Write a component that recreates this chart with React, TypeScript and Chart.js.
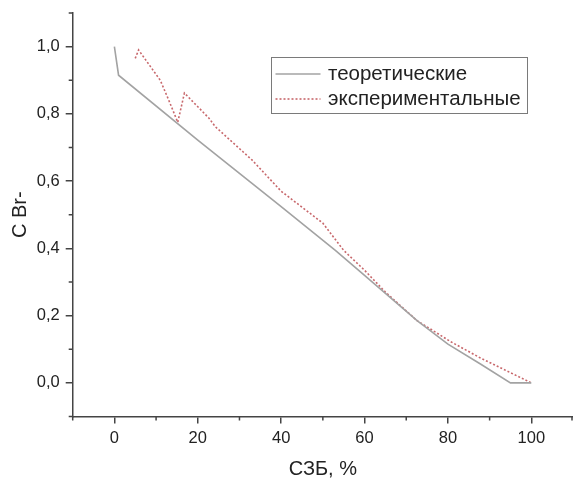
import React, { useEffect, useRef } from "react";
import { Chart, registerables } from "chart.js";

Chart.register(...registerables);

const theoX = [0, 1, 20, 40, 53, 60, 72.6, 80, 87.8, 95, 100];
const theoY = [1.0, 0.915, 0.722, 0.524, 0.394, 0.32, 0.185, 0.115, 0.056, 0.0, 0.0];

const expX = [5, 5.8, 11, 13, 15.2, 16.8, 22.7, 24.2, 33, 40, 50, 55, 60, 65, 72.6, 80.6, 87.8, 100];
const expY = [0.965, 0.99, 0.9, 0.842, 0.775, 0.862, 0.787, 0.762, 0.663, 0.57, 0.475, 0.394, 0.335, 0.27, 0.185, 0.123, 0.074, 0.0];

const xMajorTicks = [0, 20, 40, 60, 80, 100];
const xMinorTicks = [-10, 10, 30, 50, 70, 90, 110];
const yMajorTicks = [0, 0.2, 0.4, 0.6, 0.8, 1.0];
const yMinorTicks = [-0.1, 0.1, 0.3, 0.5, 0.7, 0.9, 1.1];

const seriesNames = ["теоретические", "экспериментальные"];
const xTitle = "СЗБ, %";
const yTitle = "C Br-";

const FONT = "'Liberation Sans', Arial, sans-serif";
const AXIS_COLOR = "#444444";
const TEXT_COLOR = "#222222";

export default function App() {
  const ref = useRef<HTMLCanvasElement | null>(null);

  useEffect(() => {
    if (!ref.current) return;

    const minorTicksPlugin = {
      id: "minorTicks",
      afterDraw(chart: any) {
        const ctx = chart.ctx;
        const xs = chart.scales.x;
        const ys = chart.scales.y;
        const area = chart.chartArea;
        ctx.save();
        ctx.strokeStyle = AXIS_COLOR;
        ctx.lineWidth = 1.5;
        ctx.beginPath();
        xMinorTicks.forEach((v) => {
          const px = Math.min(Math.max(xs.getPixelForValue(v), area.left), area.right - 1);
          ctx.moveTo(px, area.bottom);
          ctx.lineTo(px, area.bottom + 4);
        });
        yMinorTicks.forEach((v) => {
          const py = ys.getPixelForValue(v);
          ctx.moveTo(area.left, py);
          ctx.lineTo(area.left - 4, py);
        });
        ctx.stroke();
        ctx.restore();
      },
    };

    const legendPlugin = {
      id: "boxLegend",
      afterDraw(chart: any) {
        const ctx = chart.ctx;
        const left = 271.5;
        const top = 57.5;
        const w = 256;
        const h = 56;
        ctx.save();
        ctx.strokeStyle = "#7a7a7a";
        ctx.lineWidth = 1;
        ctx.strokeRect(left, top, w, h);
        chart.data.datasets.forEach((ds: any, i: number) => {
          const cy = top + 16.5 + i * 25;
          ctx.strokeStyle = ds.borderColor;
          ctx.lineWidth = ds.borderWidth;
          ctx.setLineDash(ds.borderDash || []);
          ctx.beginPath();
          ctx.moveTo(left + 4, cy);
          ctx.lineTo(left + 49, cy);
          ctx.stroke();
          ctx.setLineDash([]);
          ctx.fillStyle = TEXT_COLOR;
          ctx.font = `20.5px ${FONT}`;
          ctx.textBaseline = "middle";
          ctx.textAlign = "left";
          ctx.fillText(ds.label, left + 56.5, cy);
        });
        ctx.restore();
      },
    };

    const chart = new Chart(ref.current, {
      type: "line",
      data: {
        datasets: [
          {
            label: seriesNames[0],
            data: theoX.map((x, i) => ({ x, y: theoY[i] })),
            borderColor: "#a3a3a3",
            borderWidth: 1.6,
            pointRadius: 0,
            tension: 0,
            fill: false,
          },
          {
            label: seriesNames[1],
            data: expX.map((x, i) => ({ x, y: expY[i] })),
            borderColor: "#c8686c",
            borderWidth: 1.6,
            borderDash: [2, 2],
            pointRadius: 0,
            tension: 0,
            fill: false,
          },
        ],
      },
      options: {
        animation: false,
        responsive: false,
        maintainAspectRatio: false,
        layout: { padding: { top: 13, right: 0, left: 0, bottom: 0 } },
        plugins: { legend: { display: false }, tooltip: { enabled: false } },
        scales: {
          x: {
            type: "linear",
            min: -10,
            max: 110,
            afterBuildTicks: (s: any) => {
              s.ticks = xMajorTicks.map((v) => ({ value: v }));
            },
            afterFit: (s: any) => {
              s.height = 62.5;
              s.paddingLeft = 0;
              s.paddingRight = 0;
              s.paddingTop = 0;
              s.paddingBottom = 0;
            },
            grid: { drawOnChartArea: false, drawTicks: true, tickLength: 7, color: AXIS_COLOR, lineWidth: 1.5 },
            border: { display: true, color: AXIS_COLOR, width: 1.5 },
            ticks: {
              font: { family: FONT, size: 16.5 },
              color: TEXT_COLOR,
              padding: 5.5,
              maxRotation: 0,
              callback: (v: any) => String(v),
            },
            title: {
              display: true,
              text: xTitle,
              color: TEXT_COLOR,
              font: { family: FONT, size: 20, lineHeight: 1 },
              padding: { top: 0, bottom: 0 },
            },
          },
          y: {
            type: "linear",
            min: -0.1,
            max: 1.1,
            afterBuildTicks: (s: any) => {
              s.ticks = yMajorTicks.map((v) => ({ value: v }));
            },
            afterFit: (s: any) => {
              s.width = 72.7;
              s.paddingLeft = 0;
              s.paddingRight = 0;
              s.paddingTop = 0;
              s.paddingBottom = 0;
            },
            grid: { drawOnChartArea: false, drawTicks: true, tickLength: 7, color: AXIS_COLOR, lineWidth: 1.5 },
            border: { display: true, color: AXIS_COLOR, width: 1.5 },
            ticks: {
              font: { family: FONT, size: 16.5 },
              color: TEXT_COLOR,
              padding: 6,
              callback: (v: any) => Number(v).toFixed(1).replace(".", ","),
            },
            title: {
              display: true,
              text: yTitle,
              color: TEXT_COLOR,
              font: { family: FONT, size: 20, lineHeight: 1 },
              padding: { top: 10, bottom: 0 },
            },
          },
        },
      },
      plugins: [minorTicksPlugin, legendPlugin],
    });

    return () => chart.destroy();
  }, []);

  return (
    <div style={{ position: "fixed", left: 0, top: 0, width: 573, height: 479, background: "#fff" }}>
      <canvas ref={ref} width={573} height={479} style={{ width: 573, height: 479, display: "block" }} />
    </div>
  );
}
